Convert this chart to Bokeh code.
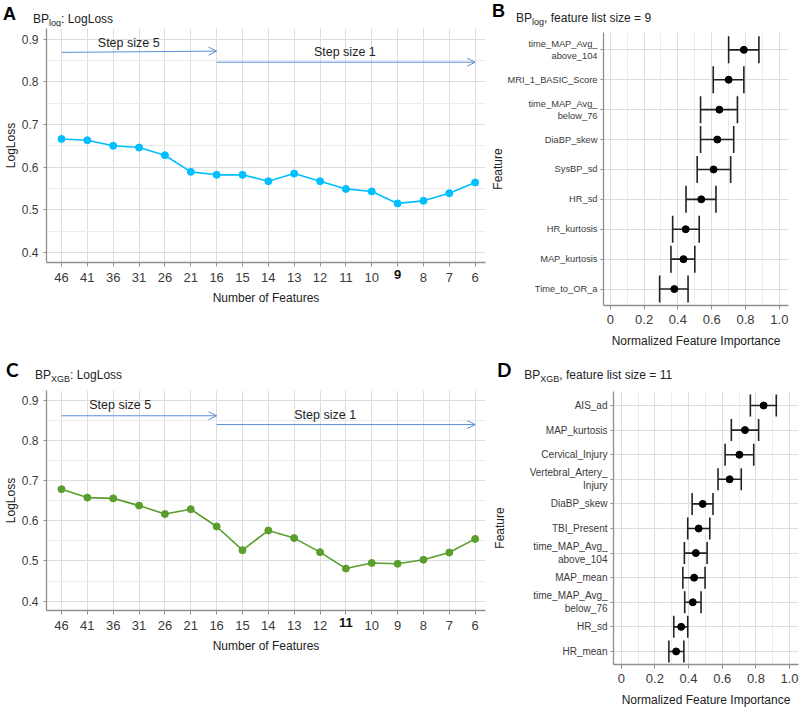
import math
from bokeh.plotting import figure
from bokeh.models import (Range1d, FixedTicker, Label, Arrow, OpenHead, TeeHead,
                          ColumnDataSource, Whisker, Div)
from bokeh.layouts import column, row
from bokeh.embed import file_html
from bokeh.resources import INLINE

# ---------------- data ----------------
n_features = ["46", "41", "36", "31", "26", "21", "16", "15", "14", "13", "12",
              "11", "10", "9", "8", "7", "6"]
logloss_log = [0.666, 0.663, 0.650, 0.646, 0.628, 0.589, 0.582, 0.582, 0.567,
               0.585, 0.567, 0.549, 0.543, 0.515, 0.521, 0.539, 0.564]
logloss_xgb = [0.679, 0.658, 0.656, 0.638, 0.617, 0.629, 0.586, 0.527, 0.576,
               0.557, 0.522, 0.481, 0.495, 0.493, 0.503, 0.521, 0.555]
logloss_ticks = [0.4, 0.5, 0.6, 0.7, 0.8, 0.9]

features_log = ["time_MAP_Avg_\nabove_104", "MRI_1_BASIC_Score", "time_MAP_Avg_\nbelow_76",
                "DiaBP_skew", "SysBP_sd", "HR_sd", "HR_kurtosis", "MAP_kurtosis",
                "Time_to_OR_a"]
imp_log = [0.790, 0.700, 0.645, 0.633, 0.611, 0.538, 0.446, 0.433, 0.379]
imp_log_lo = [0.700, 0.609, 0.534, 0.534, 0.514, 0.448, 0.369, 0.359, 0.292]
imp_log_hi = [0.879, 0.790, 0.752, 0.730, 0.712, 0.625, 0.526, 0.500, 0.460]

features_xgb = ["AIS_ad", "MAP_kurtosis", "Cervical_Injury", "Vertebral_Artery_\nInjury",
                "DiaBP_skew", "TBI_Present", "time_MAP_Avg_\nabove_104", "MAP_mean",
                "time_MAP_Avg_\nbelow_76", "HR_sd", "HR_mean"]
imp_xgb = [0.846, 0.735, 0.702, 0.644, 0.484, 0.460, 0.443, 0.433, 0.425, 0.356, 0.326]
imp_xgb_lo = [0.767, 0.654, 0.617, 0.575, 0.421, 0.395, 0.375, 0.366, 0.377, 0.312, 0.283]
imp_xgb_hi = [0.921, 0.816, 0.787, 0.713, 0.545, 0.526, 0.510, 0.498, 0.474, 0.395, 0.372]
imp_ticks = [0, 0.2, 0.4, 0.6, 0.8, 1.0]

# ---------------- style ----------------
FONT = "'Liberation Sans', Arial"
HTML_FONT = "'Liberation Sans', Arial, sans-serif"
AXIS_COL = "#8f8f8f"
GRID_MAJOR = "#dedede"
GRID_MINOR = "#ececec"
TICK_TXT = "#3a3a3a"
TXT = "#222222"
ARROW = "#5b8bd9"


def base_fig(w, h, bl, br, bt, bb, xr, yr):
    p = figure(width=w, height=h, min_border_left=bl, min_border_right=br,
               min_border_top=bt, min_border_bottom=bb, x_range=xr, y_range=yr,
               output_backend="svg", toolbar_location=None, tools="")
    p.outline_line_color = None
    p.background_fill_color = "white"
    p.border_fill_color = "white"
    for ax in (p.xaxis[0], p.yaxis[0]):
        ax.axis_line_color = AXIS_COL
        ax.axis_line_width = 1.3
        ax.major_tick_line_color = AXIS_COL
        ax.major_tick_out = 4
        ax.major_tick_in = 0
        ax.minor_tick_line_color = None
        ax.major_label_text_font = FONT
        ax.major_label_text_color = TICK_TXT
        ax.major_label_standoff = 4
        ax.axis_label_text_font = FONT
        ax.axis_label_text_font_style = "normal"
        ax.axis_label_text_color = TXT
        ax.axis_label_text_font_size = "12px"
        ax.axis_label_standoff = 8
    p.xgrid.grid_line_color = GRID_MAJOR
    p.ygrid.grid_line_color = GRID_MAJOR
    return p


def title_div(w, h, letter, letter_font, letter_size, lx, ltop, main, sub, rest, tx, ttop):
    html = (
        f'<div style="position:relative;width:{w}px;height:{h}px;overflow:visible;'
        f'font-family:{HTML_FONT};color:{TXT};white-space:nowrap;">'
        f'<span style="position:absolute;left:{lx}px;top:{ltop}px;font-family:{letter_font};'
        f'font-weight:bold;font-size:{letter_size}px;line-height:{letter_size}px;color:#000;">{letter}</span>'
        f'<span style="position:absolute;left:{tx}px;top:{ttop}px;font-size:12px;line-height:12px;">'
        f'{main}<span style="font-size:9px;position:relative;top:3px;">{sub}</span>{rest}</span>'
        f'</div>'
    )
    return Div(text=html, width=w, height=h, margin=0)


def line_panel(values, color, bold_tick, w, h, bl, br, bt, bb,
               y5, y1, t5, t1, ylabel):
    xs = list(range(len(n_features)))
    yr = Range1d(0.3765, 0.925)
    p = base_fig(w, h, bl, br, bt, bb, Range1d(-0.58, len(xs) - 0.6), yr)
    src = ColumnDataSource(dict(x=xs, y=values))
    p.line("x", "y", source=src, line_color=color, line_width=1.6)
    p.scatter("x", "y", source=src, size=7, fill_color=color, line_color=color)

    ib = n_features.index(bold_tick)
    p.xaxis.ticker = FixedTicker(ticks=xs)
    p.xaxis.major_label_overrides = {i: (lab if i != ib else "")
                                     for i, lab in enumerate(n_features)}
    p.xaxis.major_label_text_font_size = "13px"
    p.xaxis.major_label_standoff = 6
    p.xaxis.axis_label_standoff = 6
    p.xaxis.axis_label = "Number of Features"
    # the highlighted (bold) tick label lives in the panel below the axis
    p.add_layout(Label(x=ib, y=47, x_units="data", y_units="screen", text=bold_tick,
                       text_font=FONT, text_font_size="13px", text_font_style="bold",
                       text_color="#111111", text_align="center", text_baseline="top"),
                 "below")

    minor = [round((a + b) / 2, 3) for a, b in zip(logloss_ticks[:-1], logloss_ticks[1:])]
    p.yaxis.ticker = FixedTicker(ticks=logloss_ticks, minor_ticks=minor)
    p.yaxis.major_label_text_font_size = "12px"
    p.yaxis.major_tick_out = 3
    p.yaxis.major_label_standoff = 4
    p.yaxis.axis_label = ylabel
    p.yaxis.axis_label_standoff = 1
    p.ygrid.minor_grid_line_color = GRID_MINOR

    i46, i16, i6 = n_features.index("46"), n_features.index("16"), n_features.index("6")
    p.add_layout(Arrow(end=OpenHead(size=8, line_color=ARROW, line_width=1),
                       x_start=i46, y_start=y5[0], x_end=i16, y_end=y5[1],
                       line_color=ARROW, line_width=1))
    p.add_layout(Arrow(end=OpenHead(size=8, line_color=ARROW, line_width=1),
                       x_start=i16, y_start=y1, x_end=i6, y_end=y1,
                       line_color=ARROW, line_width=1))
    p.add_layout(Label(x=t5[0], y=t5[1], text="Step size 5", text_font=FONT,
                       text_font_size="12.5px", text_color=TXT, text_align="center",
                       text_baseline="middle"))
    p.add_layout(Label(x=t1[0], y=t1[1], text="Step size 1", text_font=FONT,
                       text_font_size="12.5px", text_color=TXT, text_align="center",
                       text_baseline="middle"))
    return p


def imp_panel(features, mean, lo, hi, cap, w, h, bl, br, bt, bb, xr, yr, fsize, lab_standoff):
    n = len(features)
    ys = list(range(n - 1, -1, -1))
    p = base_fig(w, h, bl, br, bt, bb, Range1d(*xr), Range1d(*yr))
    src = ColumnDataSource(dict(y=ys, m=mean, lo=lo, hi=hi))
    p.add_layout(Whisker(source=src, base="y", lower="lo", upper="hi", dimension="width",
                         line_color="#222222", line_width=1.6,
                         upper_head=TeeHead(size=cap, line_color="#222222", line_width=1.6),
                         lower_head=TeeHead(size=cap, line_color="#222222", line_width=1.6)))
    p.scatter("m", "y", source=src, size=7, fill_color="black", line_color="black")

    p.yaxis.ticker = FixedTicker(ticks=ys)
    p.yaxis.major_label_overrides = {y: f for y, f in zip(ys, features)}
    p.yaxis.major_label_text_font_size = f"{fsize}px"
    p.yaxis.major_label_standoff = 3
    p.yaxis.major_tick_out = 3
    p.yaxis.axis_label = "Feature"
    p.yaxis.axis_label_standoff = lab_standoff

    minor = [round((a + b) / 2, 3) for a, b in zip(imp_ticks[:-1], imp_ticks[1:])]
    p.xaxis.ticker = FixedTicker(ticks=imp_ticks, minor_ticks=minor)
    p.xaxis.major_label_overrides = {0: "0", 1: "1.0"}
    p.xaxis.major_label_text_font_size = "13px"
    p.xaxis.major_label_standoff = 5
    p.xaxis.axis_label_standoff = 7
    p.xaxis.axis_label = "Normalized Feature Importance"
    p.xgrid.minor_grid_line_color = GRID_MINOR
    return p


# ---------------- panels ----------------
pA = line_panel(logloss_log, "#00bfff", "9", 486, 334, 44, 1, 2, 98,
                (0.869, 0.872), 0.846, (2.6, 0.89), (10.96, 0.869), "LogLoss")
pB = imp_panel(features_log, imp_log, imp_log_lo, imp_log_hi, 27, 314, 334, 117, 12, 6, 55,
               (-0.04, 1.054), (-0.55, 8.58), 9.3, 0)
pC = line_panel(logloss_xgb, "#5a9e2e", "11", 486, 327, 45, 1, 6, 101,
                (0.862, 0.862), 0.840, (2.27, 0.889), (10.2, 0.863), "LogLoss")
pD = imp_panel(features_xgb, imp_xgb, imp_xgb_lo, imp_xgb_hi, 22, 314, 327, 127, 2, 7, 47,
               (-0.046, 1.053), (-0.53, 10.57), 10, 20)

dA = title_div(486, 26, "A", HTML_FONT, 18, 3, 4.8, "BP", "log", ": LogLoss", 33, 12.5)
dB = title_div(314, 26, "B", HTML_FONT, 18, 6, 1.5, "BP", "log", ", feature list size = 9", 30, 12.1)
dC = title_div(486, 24, "C", "Lato, sans-serif", 19, 6, 0.2, "BP", "XGB", ": LogLoss", 35, 9.1)
dD = title_div(314, 24, "D", "Lato, sans-serif", 19, 11, 0.2, "BP", "XGB", ", feature list size = 11", 38.3, 9.1)

layout = column(row(column(dA, pA), column(dB, pB)),
                row(column(dC, pC), column(dD, pD)))
open("out.html", "w").write(file_html(layout, INLINE))
